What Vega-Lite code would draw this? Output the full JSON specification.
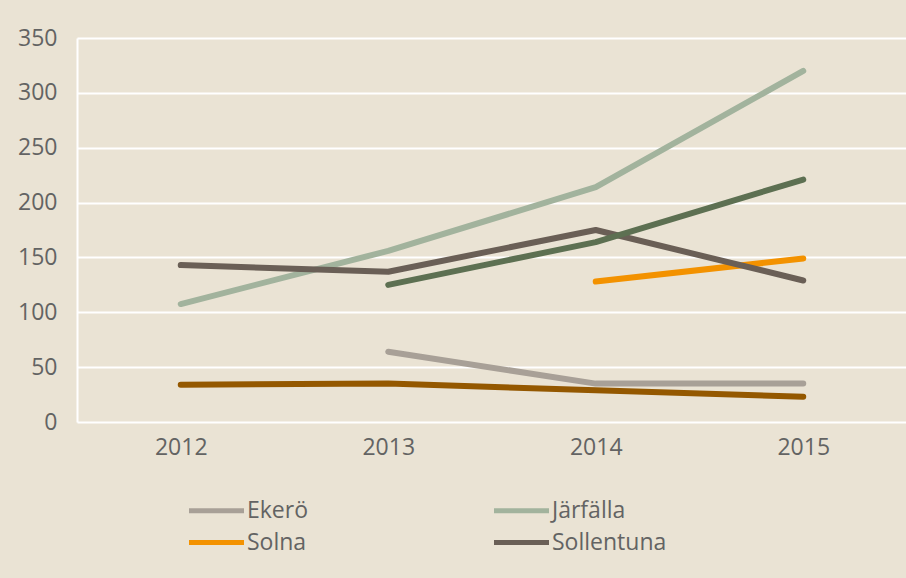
{
  "$schema": "https://vega.github.io/schema/vega-lite/v6.json",
  "width": 830,
  "height": 384,
  "autosize": {"type": "none"},
  "padding": {"left": 77, "top": 38, "right": 0, "bottom": 156},
  "background": "#EAE3D4",
  "config": {
    "view": {"stroke": null},
    "font": "Open Sans",
    "axis": {"labelFont": "Open Sans", "labelFontSize": 23, "labelFontWeight": 400, "labelColor": "#636363", "ticks": false},
    "legend": {"labelFont": "Open Sans", "labelFontSize": 23, "labelFontWeight": 400, "labelColor": "#636363"}
  },
  "data": {
    "values": [
      {"kommun": "Ekerö", "year": "2013", "value": 64},
      {"kommun": "Ekerö", "year": "2014", "value": 35},
      {"kommun": "Ekerö", "year": "2015", "value": 35},
      {"kommun": "Järfälla", "year": "2012", "value": 107.5},
      {"kommun": "Järfälla", "year": "2013", "value": 156},
      {"kommun": "Järfälla", "year": "2014", "value": 214},
      {"kommun": "Järfälla", "year": "2015", "value": 320},
      {"kommun": "Solna", "year": "2014", "value": 128},
      {"kommun": "Solna", "year": "2015", "value": 149},
      {"kommun": "Sollentuna", "year": "2012", "value": 143},
      {"kommun": "Sollentuna", "year": "2013", "value": 137},
      {"kommun": "Sollentuna", "year": "2014", "value": 175},
      {"kommun": "Sollentuna", "year": "2015", "value": 129},
      {"kommun": "Sundbyberg", "year": "2013", "value": 125},
      {"kommun": "Sundbyberg", "year": "2014", "value": 164},
      {"kommun": "Sundbyberg", "year": "2015", "value": 221},
      {"kommun": "Upplands Väsby", "year": "2012", "value": 34},
      {"kommun": "Upplands Väsby", "year": "2013", "value": 35},
      {"kommun": "Upplands Väsby", "year": "2014", "value": 29},
      {"kommun": "Upplands Väsby", "year": "2015", "value": 23}
    ]
  },
  "mark": {"type": "line", "strokeWidth": 6, "strokeCap": "round", "strokeJoin": "round"},
  "encoding": {
    "x": {
      "field": "year", "type": "ordinal",
      "scale": {"type": "point", "padding": 0.5},
      "axis": {"title": null, "domain": false, "labelAngle": 0, "labelPadding": 14, "grid": false}
    },
    "y": {
      "field": "value", "type": "quantitative",
      "scale": {"domain": [0, 350], "nice": false},
      "axis": {"title": null, "values": [0, 50, 100, 150, 200, 250, 300, 350], "domain": true, "domainColor": "#FFFFFF", "domainWidth": 2, "grid": true, "gridColor": "#FFFFFF", "gridWidth": 2, "gridOpacity": 1, "labelPadding": 20}
    },
    "color": {
      "field": "kommun", "type": "nominal",
      "scale": {
        "domain": ["Ekerö", "Järfälla", "Solna", "Sollentuna", "Sundbyberg", "Upplands Väsby"],
        "range": ["#A8A097", "#A2B39D", "#F39200", "#6A5F56", "#5D7052", "#945800"]
      },
      "legend": {
        "title": null,
        "values": ["Ekerö", "Solna", "Järfälla", "Sollentuna"],
        "orient": "none",
        "legendX": 126,
        "legendY": 459,
        "columns": 2,
        "columnPadding": 175,
        "rowPadding": 6,
        "symbolType": "M-2.5,0H2.5",
        "symbolSize": 484,
        "symbolStrokeWidth": 5,
        "labelOffset": 17
      }
    }
  }
}
